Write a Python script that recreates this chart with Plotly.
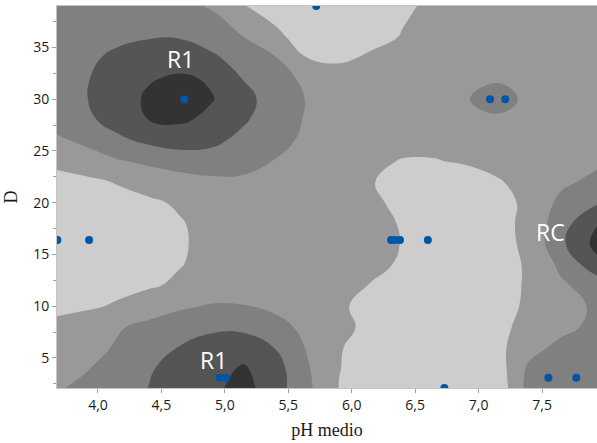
import plotly.graph_objects as go

# Grid nodes of the response surface (pH medio on x, D on y)
grid_ph = [3.66, 3.9, 4.15, 4.4, 4.65, 4.9, 5.15, 5.4, 5.65, 5.9,
           6.15, 6.4, 6.65, 6.9, 7.15, 7.4, 7.65, 7.95]
grid_d = [2.0, 4, 6, 8, 10, 12, 14, 16, 18, 20, 22, 24, 26, 28, 30, 32, 34, 36, 39.2]

# Surface level at each node, one row per D value (bottom to top)
z_d02 = [1.89, 2.25, 2.63, 3.02, 3.41, 3.80, 4.35, 3.43, 2.21, 0.98, 0.7, 0.55, 0.5, 0.5, 0.3, 2.4, 2.5, 2.5]
z_d04 = [1.5, 1.92, 2.42, 2.92, 3.31, 3.69, 4.1, 3.4, 2.1, 1.02, 0.7, 0.55, 0.5, 0.5, 0.53, 2.2, 2.4, 2.4]
z_d06 = [1.3, 1.62, 2.1, 2.58, 3.05, 3.45, 3.6, 2.96, 1.92, 1.05, 0.7, 0.5, 0.45, 0.5, 0.75, 1.64, 2.28, 2.4]
z_d08 = [1.3, 1.57, 1.9, 2.25, 2.6, 2.8, 2.75, 2.38, 1.7, 1.32, 0.7, 0.5, 0.45, 0.5, 0.8, 1.25, 1.72, 2.3]
z_d10 = [0.7, 0.85, 1.1, 1.5, 1.85, 2.1, 2.05, 1.75, 1.5, 1.12, 0.75, 0.5, 0.45, 0.5, 0.75, 1.12, 1.6, 2.2]
z_d12 = [0.55, 0.65, 0.75, 0.9, 1.15, 1.35, 1.45, 1.45, 1.35, 1.2, 0.97, 0.6, 0.5, 0.5, 0.7, 1.1, 1.85, 2.5]
z_d14 = [0.45, 0.55, 0.65, 0.8, 0.97, 1.25, 1.4, 1.45, 1.45, 1.35, 1.2, 0.9, 0.55, 0.5, 0.7, 1.1, 2.22, 3.7]
z_d16 = [0.45, 0.5, 0.6, 0.75, 0.93, 1.2, 1.4, 1.5, 1.5, 1.45, 1.3, 0.97, 0.6, 0.5, 0.7, 1.2, 2.8, 4.4]
z_d18 = [0.45, 0.5, 0.6, 0.75, 0.95, 1.25, 1.45, 1.55, 1.55, 1.45, 1.3, 0.93, 0.55, 0.5, 0.7, 1.25, 2.6, 4.0]
z_d20 = [0.5, 0.6, 0.7, 0.88, 1.1, 1.3, 1.5, 1.6, 1.6, 1.5, 1.2, 0.75, 0.5, 0.5, 0.7, 1.2, 2.25, 2.95]
z_d22 = [0.7, 0.8, 1.05, 1.3, 1.55, 1.75, 1.78, 1.75, 1.65, 1.45, 1.05, 0.7, 0.5, 0.55, 0.9, 1.4, 1.8, 2.3]
z_d24 = [1.2, 1.5, 1.9, 2.2, 2.5, 2.6, 2.4, 1.95, 1.6, 1.4, 1.2, 0.95, 0.95, 1.1, 1.35, 1.5, 1.65, 1.85]
z_d26 = [1.8, 2.2, 2.8, 3.2, 3.4, 3.2, 2.75, 2.3, 1.8, 1.55, 1.4, 1.3, 1.3, 1.4, 1.5, 1.55, 1.6, 1.65]
z_d28 = [2.4, 2.8, 3.35, 4.0, 4.15, 3.75, 3.1, 2.5, 1.9, 1.6, 1.5, 1.5, 1.5, 1.65, 1.85, 1.65, 1.55, 1.55]
z_d30 = [2.5, 2.95, 3.55, 4.15, 4.5, 4.05, 3.3, 2.55, 1.95, 1.6, 1.5, 1.5, 1.55, 1.95, 2.35, 1.8, 1.55, 1.5]
z_d32 = [2.5, 2.93, 3.4, 3.92, 4.15, 3.88, 2.95, 2.35, 1.8, 1.55, 1.45, 1.45, 1.5, 1.7, 1.9, 1.65, 1.5, 1.5]
z_d34 = [2.4, 2.8, 3.2, 3.45, 3.5, 3.15, 2.6, 2.05, 1.0, 0.8, 1.15, 1.35, 1.45, 1.5, 1.55, 1.5, 1.5, 1.5]
z_d36 = [2.3, 2.55, 2.8, 2.95, 2.95, 2.6, 2.0, 1.2, 0.6, 0.45, 0.7, 1.05, 1.3, 1.45, 1.5, 1.5, 1.5, 1.5]
z_d39 = [2.4, 2.35, 2.3, 2.25, 2.15, 1.85, 0.98, 0.6, 0.4, 0.4, 0.55, 0.85, 1.15, 1.35, 1.45, 1.5, 1.5, 1.5]

surface = [z_d02, z_d04, z_d06, z_d08, z_d10, z_d12, z_d14, z_d16, z_d18, z_d20,
           z_d22, z_d24, z_d26, z_d28, z_d30, z_d32, z_d34, z_d36, z_d39]

# Observed samples
sample_ph = [4.68, 3.68, 3.93, 4.96, 5.01, 5.72, 7.09, 7.21,
             6.31, 6.34, 6.38, 6.60, 6.73, 7.55, 7.77]
sample_d = [30.0, 16.4, 16.4, 3.1, 3.1, 39.0, 30.0, 30.0,
            16.4, 16.4, 16.4, 16.4, 2.1, 3.1, 3.1]

# Region labels
label_text = ["R1", "R1", "RC"]
label_ph = [4.65, 4.91, 7.57]
label_d = [33.9, 4.8, 17.2]

x_ticks = [4.0, 4.5, 5.0, 5.5, 6.0, 6.5, 7.0, 7.5]
y_ticks = [5, 10, 15, 20, 25, 30, 35]

band_colors = [[0.0, "#cdcdcd"], [0.25, "#999999"], [0.5, "#808080"],
               [0.75, "#555555"], [1.0, "#333333"]]

fig = go.Figure()
fig.add_trace(go.Contour(
    x=grid_ph, y=grid_d, z=surface,
    contours=dict(start=1, end=4, size=1, coloring="fill"),
    colorscale=band_colors,
    line=dict(width=0, smoothing=1.3),
    showscale=False,
    hoverinfo="skip",
))
fig.add_trace(go.Scatter(
    x=sample_ph, y=sample_d, mode="markers",
    marker=dict(size=8, color="#0056a6"),
    showlegend=False,
))

for txt, px_, py_ in zip(label_text, label_ph, label_d):
    fig.add_annotation(x=px_, y=py_, text=txt, showarrow=False,
                       font=dict(family="Open Sans", size=23, color="white"))

fig.update_layout(
    width=597, height=443,
    margin=dict(l=57, r=0, t=6, b=55),
    paper_bgcolor="white", plot_bgcolor="white",
    separators=",.",
    showlegend=False,
)
fig.update_xaxes(
    range=[3.677, 7.933], tickvals=x_ticks, tickformat=".1f",
    ticks="outside", ticklen=4, tickcolor="#a0a0a0",
    showline=True, linecolor="#c4c4c4", linewidth=1, mirror=True,
    showgrid=False, zeroline=False,
    tickfont=dict(family="Open Sans", size=14, color="#1a1a1a"),
    title=dict(text="pH medio", standoff=10,
               font=dict(family="Liberation Serif", size=18, color="#1a1a1a")),
)
fig.update_yaxes(
    range=[2.1, 39.0], tickvals=y_ticks,
    ticks="outside", ticklen=4, tickcolor="#a0a0a0",
    minor=dict(dtick=2.5, tick0=0, ticks="outside", ticklen=3, tickcolor="#a0a0a0"),
    showline=True, linecolor="#c4c4c4", linewidth=1,
    showgrid=False, zeroline=False,
    tickfont=dict(family="Open Sans", size=14, color="#1a1a1a"),
    title=dict(text="D", standoff=10,
               font=dict(family="Liberation Serif", size=18, color="#1a1a1a")),
)

fig.write_html("out.html")
